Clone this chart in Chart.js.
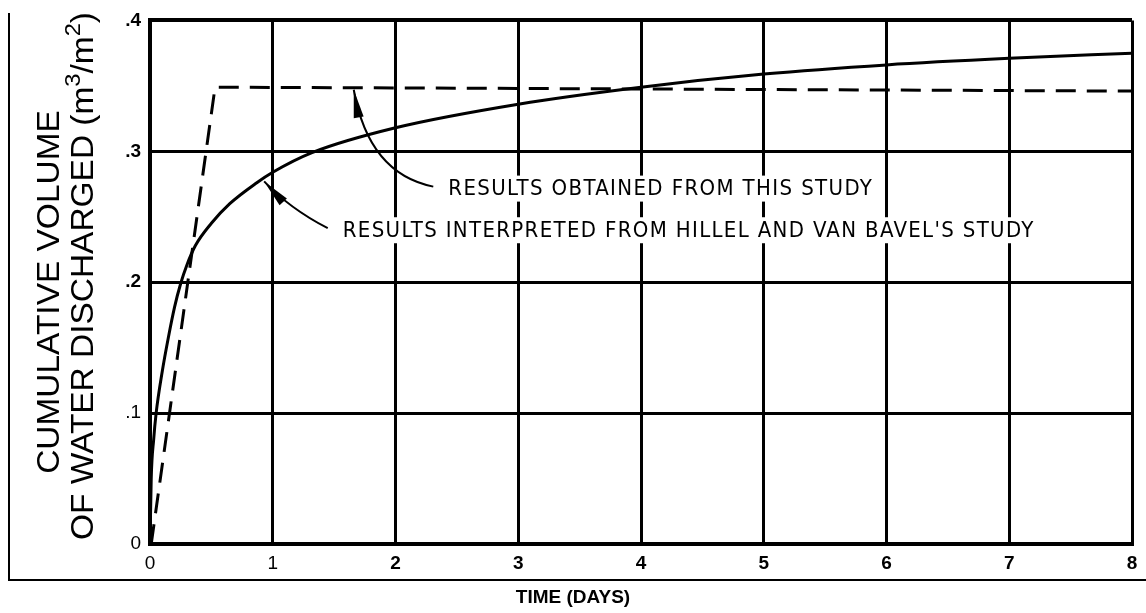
<!DOCTYPE html>
<html>
<head>
<meta charset="utf-8">
<script src="https://cdn.jsdelivr.net/npm/chart.js@4.4.0/dist/chart.umd.min.js"></script>
<style>
  html, body { margin: 0; padding: 0; background: #fff; }
  #wrap { position: relative; width: 1146px; height: 613px; }
  #frame { position: absolute; left: 8px; top: 13px; width: 1138px; height: 568px; box-sizing: border-box;
           border-left: 2px solid #000; border-bottom: 2px solid #000; }
  canvas { position: absolute; left: 0; top: 0; }
</style>
</head>
<body>
<div id="wrap">
  <div id="frame"></div>
  <canvas id="chart" width="1146" height="613"></canvas>
</div>
<script>
    // values
    var solidX = [0, 0.01, 0.03, 0.05, 0.1, 0.15, 0.2, 0.25, 0.3, 0.37, 0.5, 0.65, 0.87, 1.0, 1.32, 2, 3, 4, 5, 6, 7, 8];
    var solidY = [0, 0.05, 0.08, 0.1, 0.132, 0.158, 0.181, 0.199, 0.213, 0.228, 0.245, 0.26, 0.276, 0.284, 0.299, 0.318, 0.336, 0.349, 0.359, 0.366, 0.371, 0.375];
    var dashedX = [0.01, 0.53, 8];
    var dashedY = [0, 0.349, 0.346];

    var xTickLabels = ['0', '1', '2', '3', '4', '5', '6', '7', '8'];
    var yTickLabels = ['0', '.1', '.2', '.3', '.4'];
    var seriesNames = ["RESULTS INTERPRETED FROM HILLEL AND VAN BAVEL'S STUDY", 'RESULTS OBTAINED FROM THIS STUDY'];
    var yTitle = ['CUMULATIVE VOLUME', 'OF WATER DISCHARGED (m', '3', '/m', '2', ')'];
    var xTitle = 'TIME (DAYS)';

    function toPoints(xs, ys) {
        return xs.map(function (x, i) { return { x: x, y: ys[i] }; });
    }

    // text + arrows pointing at the curves
    var notes = [
        { text: seriesNames[1], at: [2.43, 0.2715], tip: [1.66, 0.347], width: 425, bend: [15, -13] },
        { text: seriesNames[0], at: [1.57, 0.2397], tip: [0.93, 0.277], width: 692, bend: [25, -20] }
    ];

    var notesPlugin = {
        id: 'notes',
        afterDatasetsDraw: function (chart) {
            var ctx = chart.ctx, xs = chart.scales.x, ys = chart.scales.y;
            ctx.save();
            notes.forEach(function (n) {
                var tx = xs.getPixelForValue(n.at[0]);
                var ty = ys.getPixelForValue(n.at[1]);
                ctx.font = '22px "Liberation Sans Narrow", "DejaVu Sans Condensed", sans-serif';
                if ('letterSpacing' in ctx) {
                    ctx.letterSpacing = '0px';
                    var w0 = ctx.measureText(n.text).width;
                    ctx.letterSpacing = ((n.width - w0) / n.text.length) + 'px';
                }
                ctx.fillStyle = '#fff';
                ctx.fillRect(tx - 6, ty - 13, n.width + 12, 26);
                ctx.fillStyle = '#000';
                ctx.textAlign = 'left';
                ctx.textBaseline = 'middle';
                ctx.fillText(n.text, tx, ty + 1);
                if ('letterSpacing' in ctx) ctx.letterSpacing = '0px';

                // curved arrow
                var ax = tx - 15, ay = ty - 2;
                var px = xs.getPixelForValue(n.tip[0]);
                var py = ys.getPixelForValue(n.tip[1]);
                var cx = px + n.bend[0], cy = ay + n.bend[1];
                ctx.strokeStyle = '#000';
                ctx.lineWidth = 2;
                ctx.beginPath();
                ctx.moveTo(ax, ay);
                ctx.quadraticCurveTo(cx, cy, px, py);
                ctx.stroke();
                var ang = Math.atan2(py - cy, px - cx);
                var len = 28, hw = 5;
                ctx.beginPath();
                ctx.moveTo(px, py);
                ctx.lineTo(px - len * Math.cos(ang) + hw * Math.sin(ang), py - len * Math.sin(ang) - hw * Math.cos(ang));
                ctx.lineTo(px - len * Math.cos(ang) - hw * Math.sin(ang), py - len * Math.sin(ang) + hw * Math.cos(ang));
                ctx.closePath();
                ctx.fill();
            });
            ctx.restore();
        },
        afterDraw: function (chart) {
            var ctx = chart.ctx;
            ctx.save();
            ctx.fillStyle = '#000';
            // x title
            ctx.font = 'bold 19px "Liberation Sans", Arial, sans-serif';
            ctx.textAlign = 'center';
            ctx.textBaseline = 'middle';
            ctx.fillText(xTitle, 573, 598);

            // y title, two rotated lines, stretched along the text to the picture's length
            ctx.textAlign = 'left';
            var big = '31px "Liberation Sans", Arial, sans-serif';
            var small = '22px "Liberation Sans", Arial, sans-serif';
            var parts = yTitle.slice(1);
            var widths = parts.map(function (p, i) {
                ctx.font = (i % 2 === 1) ? small : big;
                return ctx.measureText(p).width;
            });
            var total = widths.reduce(function (a, b) { return a + b; }, 0);
            var stretch = 528 / total;

            ctx.save();
            ctx.translate(50, 292);
            ctx.rotate(-Math.PI / 2);
            ctx.scale(stretch, 1);
            ctx.font = big;
            var w1 = ctx.measureText(yTitle[0]).width;
            ctx.fillText(yTitle[0], -w1 / 2, 0);
            ctx.restore();

            ctx.save();
            ctx.translate(84, 276);
            ctx.rotate(-Math.PI / 2);
            ctx.scale(stretch, 1);
            var pos = -total / 2;
            parts.forEach(function (p, i) {
                var sup = (i % 2 === 1);
                ctx.font = sup ? small : big;
                ctx.fillText(p, pos, sup ? -10 : 0);
                pos += widths[i];
            });
            ctx.restore();

            ctx.restore();
        }
    };

    var ctx = document.getElementById('chart').getContext('2d');

    var myChart = new Chart(ctx, {
        type: 'line',
        data: {
            datasets: [{
                label: seriesNames[0],
                data: toPoints(solidX, solidY),
                borderColor: '#000',
                borderWidth: 3,
                pointRadius: 0,
                cubicInterpolationMode: 'monotone',
                fill: false
            }, {
                label: seriesNames[1],
                data: toPoints(dashedX, dashedY),
                borderColor: '#000',
                borderWidth: 3,
                borderDash: [20, 11],
                pointRadius: 0,
                tension: 0,
                fill: false
            }]
        },
        options: {
            responsive: false,
            animation: false,
            layout: { padding: { left: 0, top: 15, right: 14, bottom: 0 } },
            plugins: {
                legend: { display: false },
                tooltip: { enabled: false }
            },
            scales: {
                x: {
                    type: 'linear',
                    min: 0,
                    max: 8,
                    afterFit: function (s) { s.height = 69; },
                    border: { display: true, color: '#000', width: 4 },
                    grid: { color: '#000', lineWidth: 3, drawTicks: false },
                    ticks: {
                        stepSize: 1,
                        padding: 8,
                        color: '#000',
                        font: function (c) {
                            var v = c.tick ? c.tick.value : 0;
                            return { family: '"Liberation Sans", Arial, sans-serif', size: 19, weight: v >= 2 ? 'bold' : 'normal' };
                        },
                        callback: function (value) { return xTickLabels[Math.round(value)]; }
                    }
                },
                y: {
                    min: 0,
                    max: 0.4,
                    afterFit: function (s) { s.width = 150; },
                    border: { display: true, color: '#000', width: 4 },
                    grid: {
                        color: '#000',
                        drawTicks: false,
                        lineWidth: function (c) { return (c.tick && c.tick.value > 0.39) ? 4 : 3; }
                    },
                    ticks: {
                        stepSize: 0.1,
                        padding: 9,
                        color: '#000',
                        font: function (c) {
                            var v = c.tick ? c.tick.value : 0;
                            return { family: '"Liberation Sans", Arial, sans-serif', size: 19, weight: v > 0.15 ? 'bold' : 'normal' };
                        },
                        callback: function (value) { return yTickLabels[Math.round(value * 10)]; }
                    }
                }
            }
        },
        plugins: [notesPlugin]
    });
</script>
</body>
</html>
